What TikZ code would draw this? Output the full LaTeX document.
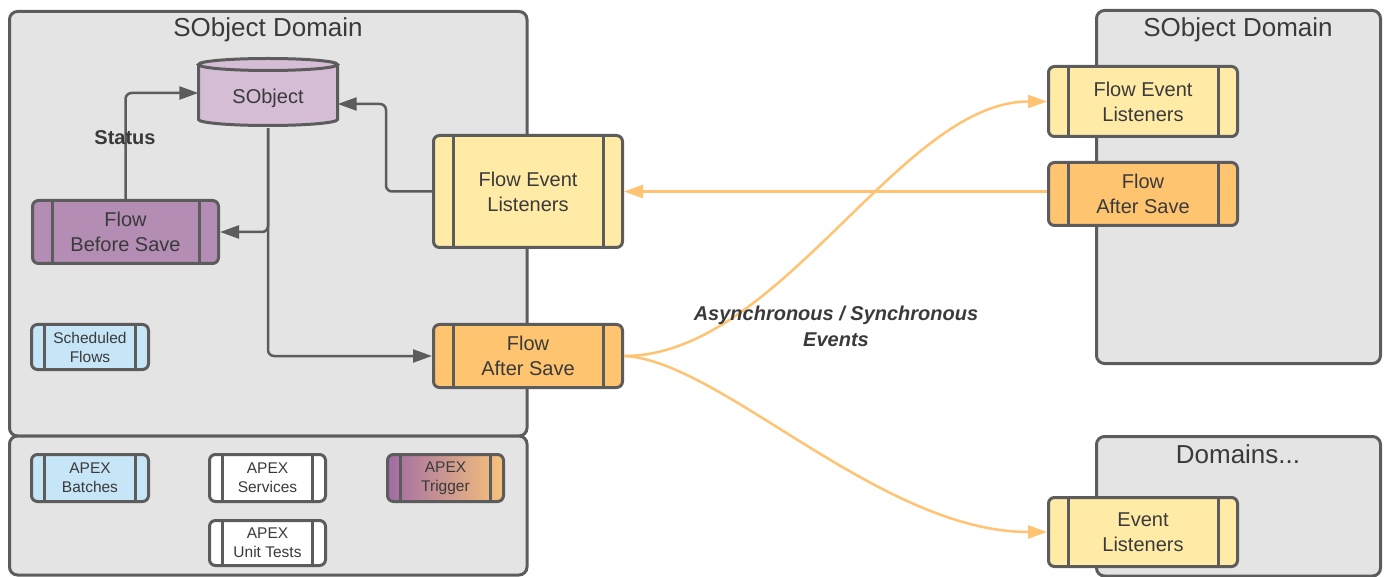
\documentclass[tikz,border=0pt]{standalone}
\usepackage{fontspec}
\setmainfont{Liberation Sans}
\usetikzlibrary{arrows.meta}
\definecolor{bordercol}{HTML}{5C5C5C}
\definecolor{textcol}{HTML}{3A3A3A}
\definecolor{contfill}{HTML}{E4E4E4}
\definecolor{cylfill}{HTML}{D6BDD6}
\definecolor{purplefill}{HTML}{B38DB3}
\definecolor{yellowfill}{HTML}{FFEBA6}
\definecolor{orangefill}{HTML}{FFC470}
\definecolor{bluefill}{HTML}{C6E5F6}
\definecolor{orangeline}{HTML}{FFC373}
\definecolor{trigpurple}{HTML}{A06CA5}
\definecolor{trigorange}{HTML}{F8C27A}
\begin{document}
\begin{tikzpicture}[x=1pt,y=1pt,
  container/.style={draw=bordercol, fill=contfill, line width=3pt, rounded corners=8pt},
  procbox/.style={draw=bordercol, line width=3pt, rounded corners=6pt, inner sep=0pt,
    align=center, text=textcol, font=\fontsize{20}{25}\selectfont,
    path picture={
      \draw[bordercol, line width=3pt] ([xshift=#1]path picture bounding box.north west) -- ([xshift=#1]path picture bounding box.south west);
      \draw[bordercol, line width=3pt] ([xshift=-#1]path picture bounding box.north east) -- ([xshift=-#1]path picture bounding box.south east);}},
  bigbox/.style={procbox=19.5pt},
  smallbox/.style={procbox=13pt, font=\fontsize{15.5}{19}\selectfont},
  title/.style={anchor=base, text=textcol, font=\fontsize{26}{30}\selectfont},
  darrow/.style={draw=bordercol, line width=2.5pt, rounded corners=6pt, -{Triangle[length=19pt,width=13pt]}},
  oarrow/.style={draw=orangeline, line width=2.5pt, -{Triangle[length=19pt,width=13pt]}},
  lbl/.style={text=textcol, font=\fontsize{20}{26}\selectfont\bfseries, align=center}
]
\useasboundingbox (0,0) rectangle (1387,-577);

% containers
\draw[container] (9.5,-11.5) rectangle (527,-436);
\draw[container] (9.5,-436) rectangle (527,-575);
\draw[container] (1096.5,-10.5) rectangle (1380.5,-363.5);
\draw[container] (1096.5,-436.5) rectangle (1380.5,-576);

\node[title] (t1) at (268,-36.5) {SObject Domain};
\node[title] (t2) at (1238,-36.5) {SObject Domain};
\node[title] (t3) at (1238,-463) {Domains...};

% cylinder
\fill[cylfill] (198.5,-64.5) -- (198.5,-119.5) arc[start angle=180,end angle=360,x radius=69.5,y radius=6] -- (337.5,-64.5) arc[start angle=0,end angle=180,x radius=69.5,y radius=6] -- cycle;
\draw[bordercol, line width=3pt] (198.5,-64.5) -- (198.5,-119.5) arc[start angle=180,end angle=360,x radius=69.5,y radius=6] -- (337.5,-64.5);
\draw[bordercol, line width=3pt] (268,-64.5) ellipse [x radius=69.5, y radius=6];
\node[inner sep=0pt, minimum width=139pt, minimum height=60pt, text=textcol, font=\fontsize{20}{25}\selectfont] (sobj) at (268,-98) {SObject};

% left boxes
\node[bigbox, fill=purplefill, minimum width=186pt, minimum height=63pt] (fbs) at (125.5,-232) {Flow\\Before Save};
\node[bigbox, fill=yellowfill, minimum width=189pt, minimum height=112pt] (fels) at (528,-191.5) {Flow Event\\Listeners};
\node[bigbox, fill=orangefill, minimum width=189pt, minimum height=63pt] (fas) at (528,-356) {Flow\\After Save};
\node[smallbox, fill=bluefill, minimum width=117pt, minimum height=45pt] (sched) at (90,-347) {Scheduled\\Flows};

\node[smallbox, fill=bluefill, minimum width=117pt, minimum height=47pt] (batch) at (90,-478) {APEX\\Batches};
\node[smallbox, fill=white, minimum width=116pt, minimum height=47pt] (serv) at (267.5,-478) {APEX\\Services};
\node[smallbox, left color=trigpurple, right color=trigorange, minimum width=116pt, minimum height=47pt] (trig) at (445.5,-478) {APEX\\Trigger};
\node[smallbox, fill=white, minimum width=116pt, minimum height=45pt] (unit) at (267.5,-543) {APEX\\Unit Tests};

% right boxes
\node[bigbox, fill=yellowfill, minimum width=189pt, minimum height=70pt] (felR) at (1143,-101.5) {Flow Event\\Listeners};
\node[bigbox, fill=orangefill, minimum width=189pt, minimum height=63pt] (fasR) at (1143,-194) {Flow\\After Save};
\node[bigbox, fill=yellowfill, minimum width=189pt, minimum height=69pt] (evl) at (1143,-532) {Event\\Listeners};

% dark connectors
\draw[darrow] (fbs.north) |- ([yshift=5pt]sobj.west);
\node[lbl] (status) at (125,-138) {Status};
\draw[darrow] (fels.west) -- ++(-46,0) |- ([yshift=-6pt]sobj.east);
\draw[darrow] (sobj.south) |- (fbs.east);
\draw[darrow] (sobj.south) |- (fas.west);

% orange connectors
\draw[oarrow] (fasR.west |- fels.east) -- (fels.east);
\draw[oarrow] (fas.east) .. controls (780,-356) and (900,-101.5) .. (felR.west);
\draw[oarrow] (fas.east) .. controls (720,-360) and (880,-532) .. (evl.west);

\node[lbl, font=\fontsize{20}{26}\selectfont\bfseries\itshape] (async) at (836,-326) {Asynchronous / Synchronous\\Events};
\end{tikzpicture}
\end{document}
